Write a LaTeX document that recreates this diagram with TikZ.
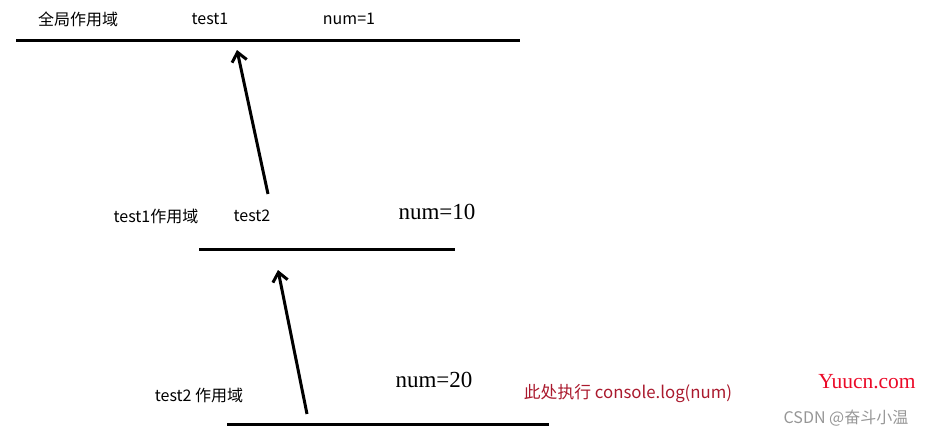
\documentclass[tikz,border=0pt]{standalone}
\usepackage{fontspec}
\setmainfont{Noto Sans CJK SC}
\newfontfamily\serifnum{Liberation Serif}
\usepackage{tikz}
\usetikzlibrary{arrows.meta}
\definecolor{logred}{RGB}{170,25,45}
\definecolor{siteRed}{RGB}{235,10,40}
\definecolor{markgray}{RGB}{150,150,150}
\tikzset{
  lbl/.style={inner sep=0pt,font=\fontsize{16}{19}\selectfont},
  numlbl/.style={inner sep=0pt,font=\serifnum\fontsize{23}{27}\selectfont},
  scopeline/.style={line width=3pt},
  chain/.style={line width=3pt,-{Straight Barb[length=9pt,width=15pt,line width=3pt]}}
}
\begin{document}
\begin{tikzpicture}[x=1pt,y=-1pt]
        \useasboundingbox (0,0) rectangle (929,437);
        %global scope
        \node[lbl] (gscope) at (78,19) {全局作用域};
        \node[lbl] (test1) at (210,19) {test1};
        \node[lbl] (num1) at (349,19) {num=1};
        \draw[scopeline] (16,40) -- (520,40);
        %test1 scope
        \node[lbl] (t1scope) at (156,216) {test1作用域};
        \node[lbl] (test2) at (252,216) {test2};
        \node[numlbl] (num10) at (437,212) {num=10};
        \draw[scopeline] (199,249) -- (455,249);
        %test2 scope
        \node[lbl] (t2scope) at (199,395) {test2 作用域};
        \node[numlbl] (num20) at (434,380) {num=20};
        \node[lbl,text=logred,font=\fontsize{16.8}{20}\selectfont] (log) at (628,394) {此处执行 console.log(num)};
        \draw[scopeline] (227,424) -- (549,424);
        %watermarks
        \node[inner sep=0pt,text=siteRed,font=\serifnum\fontsize{21.5}{25}\selectfont] (site) at (867,382) {Yuucn.com};
        \node[lbl,text=markgray] (csdn) at (846,418) {CSDN @奋斗小温};
        %scope chain
        \coordinate (c1s) at (268,194);
        \coordinate (c1e) at (237,50);
        \coordinate (c2s) at (307,414);
        \coordinate (c2e) at (278,270);
        \draw[chain] (c1s) -- (c1e);
        \draw[chain] (c2s) -- (c2e);
\end{tikzpicture}
\end{document}
